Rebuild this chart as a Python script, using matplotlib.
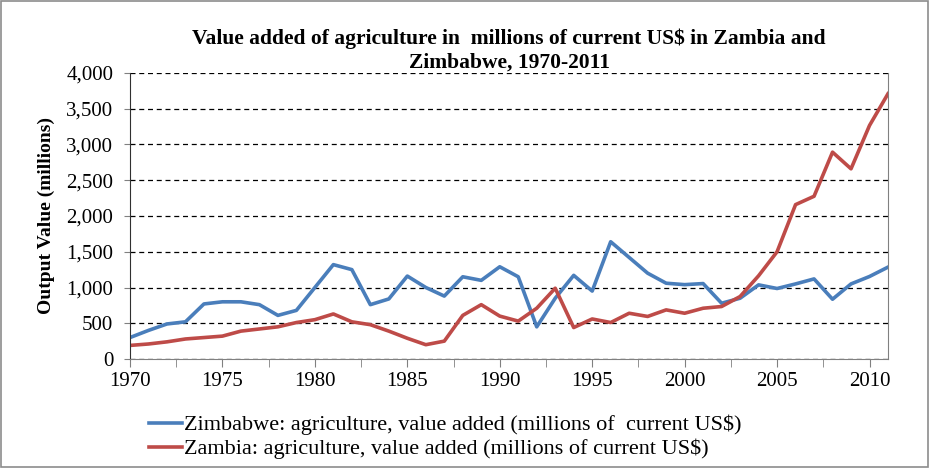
import matplotlib.pyplot as plt
from matplotlib.ticker import MultipleLocator, FuncFormatter
from matplotlib.patches import Rectangle

# years and values (millions of current US$)
years = list(range(1970, 2012))
zimbabwe = [300, 400, 490, 520, 770, 800, 800, 760, 610, 680,
            1000, 1320, 1250, 760, 840, 1160, 1000, 880, 1150, 1100,
            1290, 1150, 450, 850, 1170, 950, 1640, 1420, 1200, 1060,
            1040, 1055, 780, 850, 1037, 986, 1050, 1120, 836, 1050,
            1154, 1285]
zambia = [190, 210, 240, 280, 300, 320, 390, 420, 450, 510,
          550, 630, 520, 480, 390, 290, 200, 250, 610, 760,
          600, 530, 710, 990, 440, 560, 510, 640, 595, 687,
          640, 710, 734, 874, 1164, 1500, 2159, 2276, 2893, 2660,
          3266, 3710]

zim_label = "Zimbabwe: agriculture, value added (millions of  current US$)"
zam_label = "Zambia: agriculture, value added (millions of current US$)"
title = "Value added of agriculture in  millions of current US$ in Zambia and\nZimbabwe, 1970-2011"

plt.rcParams['font.family'] = ['Liberation Serif', 'DejaVu Serif']

fig = plt.figure(figsize=(9.3, 4.68), dpi=100)
ax = fig.add_axes([130 / 930, 1 - 359 / 468, (888 - 130) / 930, (359 - 73) / 468])

# border round the whole picture
fig.patches.append(Rectangle((0.001, 0.002), 0.997, 0.996, transform=fig.transFigure,
                             fill=False, edgecolor="#8c8c8c", lw=1.2))

ax.plot(years, zimbabwe, color="#4a7ebb", lw=2.6, label=zim_label)
ax.plot(years, zambia, color="#be4b48", lw=2.6, label=zam_label)

ax.set_xlim(1970, 2011)
ax.set_ylim(0, 4000)

# dashed grid lines
ax.yaxis.set_major_locator(MultipleLocator(500))
ax.grid(axis="y", color="black", linestyle=(0, (4, 3)), lw=0.9)
ax.set_axisbelow(True)

ax.xaxis.set_major_locator(MultipleLocator(5))
ax.xaxis.set_minor_locator(MultipleLocator(2.5))
ax.yaxis.set_major_formatter(FuncFormatter(lambda v, p: f"{int(v):,}"))

ax.tick_params(axis="x", which="both", length=6, direction="out", color="#808080", labelsize=15, pad=3)
ax.tick_params(axis="y", length=4, direction="out", color="#808080", labelsize=15, pad=8)

for s in ["left", "bottom", "right"]:
    ax.spines[s].set_color("#808080")
ax.spines["left"].set_color("#303030")
ax.spines["top"].set_visible(False)

ax.set_ylabel("Output Value (millions)", fontsize=14, fontweight="bold", labelpad=8)
ax.set_title(title, fontsize=15.5, fontweight="bold", pad=4, linespacing=1.2)

fig.legend(loc="upper left", bbox_to_anchor=(140 / 930, 1 - 406 / 468), frameon=False,
           fontsize=16, handlelength=1.5, handletextpad=0.1, labelspacing=0.15, borderaxespad=0)

fig.savefig("out.png", dpi=100)
